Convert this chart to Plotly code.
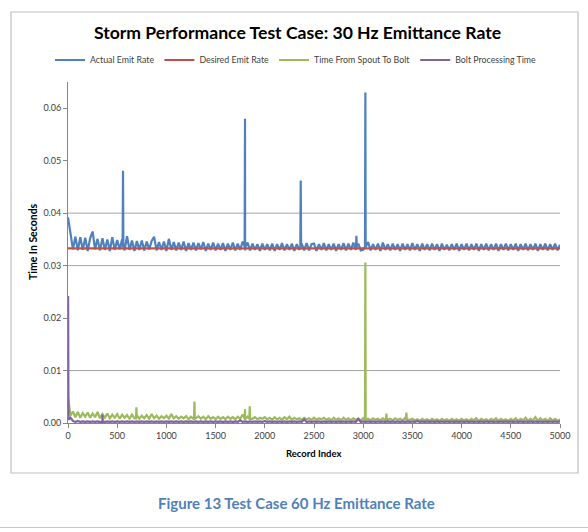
import plotly.graph_objects as go

record_step = 25
record_index = list(range(0, 5001, record_step))

actual_emit_rate = [
    0.0392, 0.0362, 0.0331, 0.0355, 0.0329, 0.0354, 0.0330, 0.0353, 0.0328, 0.0352,
    0.0365, 0.0331, 0.0351, 0.0329, 0.0352, 0.0330, 0.0350, 0.0328, 0.0354, 0.0330,
    0.0349, 0.0331, 0.0350, 0.0329, 0.0356, 0.0330, 0.0348, 0.0328, 0.0347, 0.0330,
    0.0348, 0.0329, 0.0346, 0.0331, 0.0347, 0.0355, 0.0329, 0.0345, 0.0330, 0.0346,
    0.0328, 0.0351, 0.0330, 0.0345, 0.0329, 0.0344, 0.0330, 0.0346, 0.0328, 0.0343,
    0.0330, 0.0344, 0.0329, 0.0343, 0.0331, 0.0345, 0.0328, 0.0342, 0.0330, 0.0344,
    0.0329, 0.0342, 0.0330, 0.0343, 0.0328, 0.0342, 0.0330, 0.0344, 0.0329, 0.0342,
    0.0330, 0.0346, 0.0329, 0.0344, 0.0329, 0.0342, 0.0330, 0.0341, 0.0328, 0.0342,
    0.0330, 0.0341, 0.0329, 0.0342, 0.0328, 0.0341, 0.0330, 0.0343, 0.0329, 0.0341,
    0.0330, 0.0342, 0.0328, 0.0341, 0.0330, 0.0342, 0.0329, 0.0343, 0.0329, 0.0341,
    0.0342, 0.0328, 0.0341, 0.0330, 0.0343, 0.0329, 0.0341, 0.0330, 0.0342, 0.0328,
    0.0341, 0.0330, 0.0343, 0.0329, 0.0342, 0.0330, 0.0344, 0.0330, 0.0342, 0.0329,
    0.0330, 0.0342, 0.0345, 0.0329, 0.0341, 0.0330, 0.0342, 0.0328, 0.0344, 0.0330,
    0.0341, 0.0329, 0.0342, 0.0330, 0.0341, 0.0328, 0.0342, 0.0330, 0.0341, 0.0329,
    0.0343, 0.0330, 0.0341, 0.0328, 0.0342, 0.0330, 0.0341, 0.0329, 0.0342, 0.0330,
    0.0341, 0.0328, 0.0342, 0.0330, 0.0340, 0.0329, 0.0341, 0.0330, 0.0342, 0.0328,
    0.0341, 0.0330, 0.0342, 0.0329, 0.0341, 0.0330, 0.0342, 0.0328, 0.0341, 0.0330,
    0.0342, 0.0329, 0.0341, 0.0330, 0.0342, 0.0328, 0.0341, 0.0330, 0.0342, 0.0329,
    0.0341, 0.0330, 0.0342, 0.0328, 0.0341, 0.0330, 0.0342, 0.0329, 0.0341, 0.0330,
    0.0342, 0.0328, 0.0341, 0.0330, 0.0342, 0.0329, 0.0341, 0.0330, 0.0342, 0.0329,
    0.0340,
]
# (record, peak value, baseline value beside the peak)
actual_emit_spikes = [(559, 0.0481, 0.0336), (1799, 0.0580, 0.0336), (2365, 0.0462, 0.0336),
                      (2931, 0.0357, 0.0336), (3022, 0.0630, 0.0336)]

desired_emit_rate_value = 0.0333

time_spout_to_bolt = [
    0.0050, 0.0014, 0.0022, 0.0011, 0.0021, 0.0010, 0.0019, 0.0012, 0.0020, 0.0010,
    0.0018, 0.0011, 0.0021, 0.0009, 0.0017, 0.0010, 0.0018, 0.0009, 0.0016, 0.0010,
    0.0017, 0.0008, 0.0016, 0.0010, 0.0015, 0.0008, 0.0016, 0.0009, 0.0015, 0.0008,
    0.0014, 0.0009, 0.0015, 0.0008, 0.0017, 0.0009, 0.0014, 0.0008, 0.0013, 0.0009,
    0.0014, 0.0008, 0.0017, 0.0009, 0.0013, 0.0008, 0.0012, 0.0009, 0.0013, 0.0007,
    0.0012, 0.0008, 0.0009, 0.0013, 0.0008, 0.0012, 0.0007, 0.0013, 0.0008, 0.0011,
    0.0007, 0.0012, 0.0008, 0.0011, 0.0007, 0.0012, 0.0008, 0.0011, 0.0007, 0.0012,
    0.0008, 0.0016, 0.0008, 0.0012, 0.0009, 0.0008, 0.0011, 0.0007, 0.0010, 0.0008,
    0.0011, 0.0007, 0.0010, 0.0006, 0.0011, 0.0007, 0.0010, 0.0006, 0.0011, 0.0007,
    0.0012, 0.0006, 0.0010, 0.0007, 0.0009, 0.0006, 0.0010, 0.0007, 0.0009, 0.0006,
    0.0010, 0.0006, 0.0009, 0.0007, 0.0010, 0.0006, 0.0009, 0.0005, 0.0010, 0.0006,
    0.0009, 0.0005, 0.0010, 0.0006, 0.0009, 0.0005, 0.0009, 0.0006, 0.0008, 0.0005,
    0.0009, 0.0006, 0.0008, 0.0005, 0.0009, 0.0006, 0.0008, 0.0005, 0.0009, 0.0006,
    0.0006, 0.0008, 0.0005, 0.0009, 0.0006, 0.0008, 0.0005, 0.0009, 0.0007, 0.0006,
    0.0008, 0.0005, 0.0007, 0.0004, 0.0008, 0.0005, 0.0007, 0.0004, 0.0008, 0.0005,
    0.0007, 0.0004, 0.0008, 0.0005, 0.0007, 0.0004, 0.0008, 0.0005, 0.0007, 0.0004,
    0.0008, 0.0005, 0.0007, 0.0004, 0.0008, 0.0005, 0.0009, 0.0004, 0.0008, 0.0005,
    0.0007, 0.0004, 0.0008, 0.0005, 0.0009, 0.0004, 0.0008, 0.0005, 0.0007, 0.0004,
    0.0008, 0.0005, 0.0009, 0.0004, 0.0008, 0.0005, 0.0010, 0.0004, 0.0008, 0.0005,
    0.0011, 0.0004, 0.0009, 0.0005, 0.0008, 0.0004, 0.0009, 0.0005, 0.0008, 0.0004,
    0.0007,
]
time_spout_to_bolt_spikes = [(695, 0.0030, 0.0009), (1285, 0.0041, 0.0008), (1799, 0.0026, 0.0008),
                             (1847, 0.0032, 0.0008), (3022, 0.0306, 0.0006), (3236, 0.0018, 0.0006),
                             (3439, 0.0020, 0.0006)]

bolt_processing_time = [
    0.0045, 0.0010, 0.0004, 0.0002, 0.0004, 0.0002, 0.0003, 0.0002, 0.0003, 0.0002,
    0.0003, 0.0002, 0.0003, 0.0002, 0.0003, 0.0002, 0.0003, 0.0002, 0.0003, 0.0002,
    0.0003, 0.0002, 0.0003, 0.0002, 0.0003, 0.0002, 0.0003, 0.0002, 0.0003, 0.0002,
    0.0003, 0.0002, 0.0003, 0.0002, 0.0003, 0.0002, 0.0003, 0.0002, 0.0003, 0.0002,
    0.0003, 0.0002, 0.0003, 0.0002, 0.0003, 0.0002, 0.0003, 0.0002, 0.0003, 0.0002,
    0.0003, 0.0002, 0.0003, 0.0002, 0.0003, 0.0002, 0.0003, 0.0002, 0.0003, 0.0002,
    0.0003, 0.0002, 0.0003, 0.0002, 0.0003, 0.0002, 0.0003, 0.0002, 0.0003, 0.0002,
    0.0005, 0.0002, 0.0003, 0.0002, 0.0003, 0.0002, 0.0003, 0.0002, 0.0003, 0.0002,
    0.0004, 0.0002, 0.0003, 0.0002, 0.0003, 0.0002, 0.0003, 0.0002, 0.0003, 0.0002,
    0.0003, 0.0002, 0.0003, 0.0002, 0.0003, 0.0002, 0.0007, 0.0002, 0.0003, 0.0002,
    0.0003, 0.0002, 0.0003, 0.0002, 0.0003, 0.0002, 0.0003, 0.0002, 0.0003, 0.0002,
    0.0003, 0.0002, 0.0003, 0.0002, 0.0003, 0.0002, 0.0003, 0.0002, 0.0008, 0.0002,
    0.0003, 0.0002, 0.0003, 0.0002, 0.0003, 0.0002, 0.0003, 0.0002, 0.0003, 0.0002,
    0.0003, 0.0002, 0.0003, 0.0002, 0.0003, 0.0002, 0.0003, 0.0002, 0.0003, 0.0002,
    0.0003, 0.0002, 0.0004, 0.0002, 0.0003, 0.0002, 0.0003, 0.0002, 0.0003, 0.0002,
    0.0003, 0.0002, 0.0003, 0.0002, 0.0003, 0.0002, 0.0003, 0.0002, 0.0003, 0.0002,
    0.0003, 0.0002, 0.0003, 0.0002, 0.0003, 0.0002, 0.0003, 0.0002, 0.0003, 0.0002,
    0.0003, 0.0002, 0.0003, 0.0002, 0.0003, 0.0002, 0.0003, 0.0002, 0.0003, 0.0002,
    0.0003, 0.0002, 0.0003, 0.0002, 0.0003, 0.0002, 0.0003, 0.0002, 0.0003, 0.0002,
    0.0003, 0.0002, 0.0003, 0.0002, 0.0003, 0.0002, 0.0003, 0.0002, 0.0003, 0.0002,
    0.0003,
]
bolt_processing_spikes = [(1, 0.0242, 0.0006), (350, 0.0016, 0.0002)]

series_names = ["Actual Emit Rate", "Desired Emit Rate", "Time From Spout To Bolt", "Bolt Processing Time"]
series_colors = ["#4F81BD", "#C0504D", "#9BBB59", "#8064A2"]

y_tick_values = [0.00, 0.01, 0.02, 0.03, 0.04, 0.05, 0.06]
y_tick_labels = ["0.00", "0.01", "0.02", "0.03", "0.04", "0.05", "0.06"]
x_tick_values = list(range(0, 5001, 500))
x_tick_labels = [str(v) for v in x_tick_values]
visible_gridlines = [0.01, 0.03, 0.04]

title_text = "Storm Performance Test Case: 30 Hz Emittance Rate"
caption_text = "Figure 13 Test Case 60 Hz Emittance Rate"
x_title = "Record Index"
y_title = "Time In Seconds"


def with_spikes(base, spikes, half_width=4):
    """Merge the sampled series with its narrow spikes (peak flanked by its local baseline)."""
    pts = list(zip(record_index, base))
    for rec, peak, side in spikes:
        if rec - half_width > 0:
            pts.append((rec - half_width, side))
        pts.append((rec, peak))
        pts.append((rec + half_width, side))
    pts.sort(key=lambda p: p[0])
    return [p[0] for p in pts], [p[1] for p in pts]


series_xy = [
    with_spikes(actual_emit_rate, actual_emit_spikes),
    (record_index, [desired_emit_rate_value] * len(record_index)),
    with_spikes(time_spout_to_bolt, time_spout_to_bolt_spikes),
    with_spikes(bolt_processing_time, bolt_processing_spikes),
]

# ---------------- figure ----------------
fig = go.Figure()
for name, color, (xs, ys) in zip(series_names, series_colors, series_xy):
    fig.add_trace(go.Scatter(
        x=xs, y=ys, name=name, mode="lines",
        line=dict(color=color, width=2.2, simplify=False),
    ))

FONT = "Lato"
TXT = "#404040"

# plot-area pixel frame: x 68..560, y 82..423
def px_x(px):
    return (px - 68) / 492


def px_y(py):
    return (423 - py) / 341


shapes = []
for g in visible_gridlines:
    shapes.append(dict(type="line", xref="paper", yref="y", x0=0, x1=1, y0=g, y1=g,
                       line=dict(color="#A6A6A6", width=1), layer="below"))
# chart frame
shapes.append(dict(type="rect", xref="paper", yref="paper",
                   x0=px_x(11), x1=px_x(578), y0=px_y(473), y1=px_y(12),
                   line=dict(color="#BFBFBF", width=1.2), layer="below"))
# page rule below caption
shapes.append(dict(type="line", xref="paper", yref="paper",
                   x0=px_x(0), x1=px_x(588), y0=px_y(527.5), y1=px_y(527.5),
                   line=dict(color="#C8C8C8", width=1.2)))

fig.update_layout(
    width=588, height=532,
    margin=dict(l=68, r=28, t=82, b=109),
    paper_bgcolor="white", plot_bgcolor="white",
    font=dict(family=FONT, color=TXT, size=9),
    title=dict(text="<b>" + title_text + "</b>", xref="container", yref="container",
               x=297.5 / 588, y=1 - 33 / 532, xanchor="center", yanchor="middle",
               font=dict(family=FONT, size=17.6, color="#000000")),
    showlegend=True,
    legend=dict(orientation="h", xref="paper", yref="paper", x=px_x(50), y=px_y(60),
                xanchor="left", yanchor="middle", font=dict(size=8.8, color=TXT),
                bgcolor="rgba(0,0,0,0)", traceorder="normal", itemwidth=30),
    xaxis=dict(range=[0, 5000], tickmode="array", tickvals=x_tick_values, ticktext=x_tick_labels,
               showgrid=False, zeroline=False, showline=True, linecolor="#868686", linewidth=1,
               ticks="outside", ticklen=4, tickcolor="#868686",
               tickfont=dict(size=9, color=TXT)),
    yaxis=dict(range=[0, 0.065], tickmode="array", tickvals=y_tick_values, ticktext=y_tick_labels,
               showgrid=False, zeroline=False, showline=True, linecolor="#868686", linewidth=1,
               ticks="outside", ticklen=4, tickcolor="#868686",
               tickfont=dict(size=9, color=TXT)),
    shapes=shapes,
    annotations=[
        dict(text="<b>" + x_title + "</b>", xref="paper", yref="paper",
             x=px_x(313), y=px_y(453), xanchor="center", yanchor="middle",
             showarrow=False, font=dict(family=FONT, size=9.5, color="#000000")),
        dict(text="<b>" + y_title + "</b>", xref="paper", yref="paper", textangle=-90,
             x=px_x(33), y=px_y(242), xanchor="center", yanchor="middle",
             showarrow=False, font=dict(family=FONT, size=10.5, color="#000000")),
        dict(text="<b>" + caption_text + "</b>", xref="paper", yref="paper",
             x=px_x(296), y=px_y(502.5), xanchor="center", yanchor="middle",
             showarrow=False, font=dict(family=FONT, size=15, color="#4F81BD")),
    ],
)

fig.write_html("out.html")
